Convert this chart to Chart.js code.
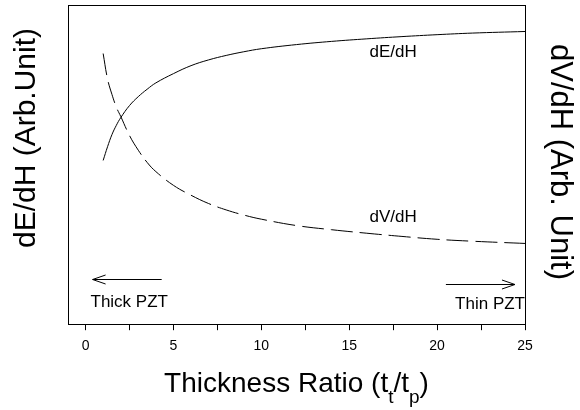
<!DOCTYPE html>
<html>
	<head>
		<meta charset="utf-8">
		<title>Thickness ratio</title>
		<script src="https://cdn.jsdelivr.net/npm/chart.js"></script>
		<style>
			html, body { margin: 0; padding: 0; background: #fff; }
			#wrap { width: 580px; height: 410px; }
		</style>
	</head>
	<body>
		<div id="wrap"><canvas id="chart" width="580" height="410"></canvas></div>
		<script type="text/javascript">
			// thickness ratio t_t/t_p
			const ratio = [1, 1.25, 1.5, 1.75, 2, 2.5, 3, 3.5, 4, 5, 6, 7, 8, 9, 10, 12, 14, 16, 18, 20, 22, 25]
			// arbitrary units
			const dEdH = [51.3, 55.6, 59.4, 62.3, 64.7, 68.5, 71.3, 73.6, 75.6, 78.5, 81, 82.8, 84.2, 85.35, 86.3, 87.6, 88.6, 89.4, 90.1, 90.7, 91.2, 91.7]
			const dVdH = [84.8, 76.8, 72, 68, 65.1, 59.1, 54.5, 50.7, 47.8, 43.5, 40.4, 37.8, 35.8, 34.2, 32.9, 30.9, 29.6, 28.5, 27.5, 26.6, 26, 25.3]
			const xTicks = [0, 2.5, 5, 7.5, 10, 12.5, 15, 17.5, 20, 22.5, 25]

			const FONT = '"Liberation Sans", Arial, Helvetica, sans-serif'

			function pts(xs, ys) {
				return xs.map((x, i) => ({ x: x, y: ys[i] }))
			}

			function arrow(ctx, x1, y, x2) {
				let dir = x2 > x1 ? 1 : -1
				ctx.beginPath()
				ctx.moveTo(x1, y); ctx.lineTo(x2, y)
				ctx.moveTo(x2 - dir * 13, y - 4.5); ctx.lineTo(x2, y); ctx.lineTo(x2 - dir * 13, y + 4.5)
				ctx.stroke()
			}

			const decor = {
				id: 'decor',
				afterDraw(chart) {
					let ctx = chart.ctx, a = chart.chartArea
					let x = chart.scales.x, y = chart.scales.y
					ctx.save()
					ctx.strokeStyle = '#000'
					ctx.lineWidth = 1
					ctx.strokeRect(Math.round(a.left) + 0.5, Math.round(a.top) + 0.5, Math.round(a.right - a.left), Math.round(a.bottom - a.top))

					ctx.fillStyle = '#000'
					ctx.textBaseline = 'alphabetic'
					ctx.font = '17px ' + FONT
					ctx.textAlign = 'center'
					ctx.fillText('dE/dH', x.getPixelForValue(17.5), y.getPixelForValue(83.6))
					ctx.fillText('dV/dH', x.getPixelForValue(17.5), y.getPixelForValue(31.9))
					ctx.textAlign = 'left'
					ctx.fillText('Thick PZT', x.getPixelForValue(0.28), y.getPixelForValue(5.3))
					ctx.textAlign = 'right'
					ctx.fillText('Thin PZT', x.getPixelForValue(25), y.getPixelForValue(4.7))

					arrow(ctx, x.getPixelForValue(4.33), Math.round(y.getPixelForValue(14.1)) + 0.5, x.getPixelForValue(0.4))
					arrow(ctx, x.getPixelForValue(20.5), Math.round(y.getPixelForValue(12.7)) + 0.5, x.getPixelForValue(24.43))

					// axis titles
					ctx.textAlign = 'center'
					ctx.textBaseline = 'middle'
					ctx.save()
					ctx.font = '30px ' + FONT
					ctx.translate(27, 138)
					ctx.rotate(-Math.PI / 2)
					ctx.fillText('dE/dH (Arb.Unit)', 0, 0)
					ctx.restore()
					ctx.save()
					ctx.font = '31px ' + FONT
					ctx.translate(560, 162)
					ctx.rotate(Math.PI / 2)
					ctx.fillText('dV/dH (Arb. Unit)', 0, 0)
					ctx.restore()

					// x title with subscripts
					let parts = [['Thickness Ratio (t', 0], ['t', 1], ['/t', 0], ['p', 1], [')', 0]]
					let big = '28px ' + FONT, small = '19px ' + FONT, w = 0
					for (let p of parts) { ctx.font = p[1] ? small : big; w += ctx.measureText(p[0]).width }
					let cx = (a.left + a.right) / 2 - w / 2, base = 392
					ctx.textAlign = 'left'
					ctx.textBaseline = 'alphabetic'
					for (let p of parts) {
						ctx.font = p[1] ? small : big
						ctx.fillText(p[0], cx, p[1] ? base + 11 : base)
						cx += ctx.measureText(p[0]).width
					}
					ctx.restore()
				}
			}

			new Chart(document.getElementById('chart'), {
				type: 'line',
				data: {
					datasets: [
						{ label: 'dE/dH', data: pts(ratio, dEdH), yAxisID: 'y', borderColor: '#000', borderWidth: 1, pointRadius: 0, tension: 0.4 },
						{ label: 'dV/dH', data: pts(ratio, dVdH), yAxisID: 'y2', borderColor: '#000', borderWidth: 1, borderDash: [22, 7], pointRadius: 0, tension: 0.4 }
					]
				},
				options: {
					responsive: false,
					animation: false,
					layout: { padding: { left: 68, right: 55, top: 5, bottom: 47 } },
					plugins: { legend: { display: false }, tooltip: { enabled: false } },
					scales: {
						x: {
							type: 'linear', min: -1, max: 25,
							afterBuildTicks: s => { s.ticks = xTicks.map(v => ({ value: v })) },
							ticks: { color: '#000', font: { family: FONT, size: 14 }, padding: 8, maxRotation: 0, autoSkip: false, callback: v => v % 5 === 0 ? v : '' },
							grid: { display: true, drawOnChartArea: false, drawTicks: true, tickLength: 6, color: '#000' },
							border: { display: false }
						},
						y: { min: 0, max: 100, display: false },
						y2: { min: 0, max: 100, display: false, position: 'right' }
					}
				},
				plugins: [decor]
			})
		</script>
	</body>
</html>
